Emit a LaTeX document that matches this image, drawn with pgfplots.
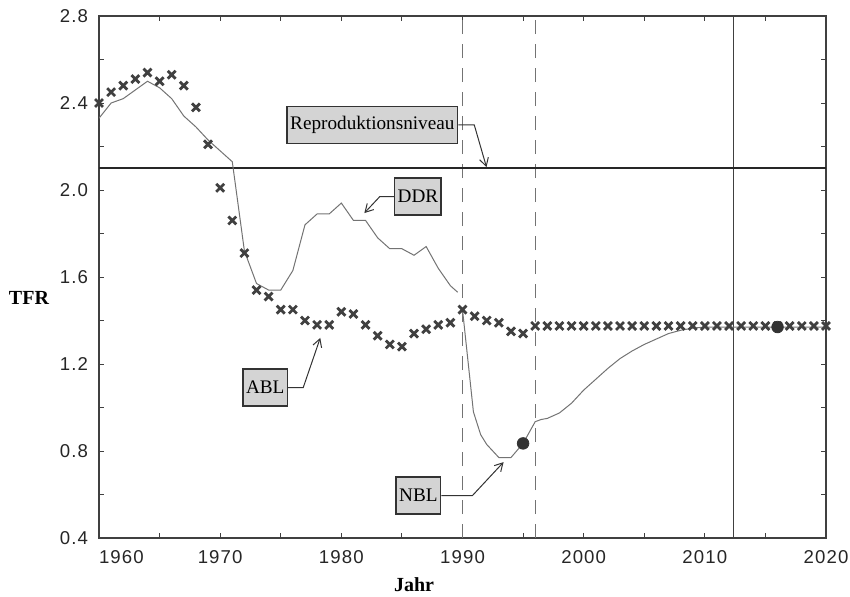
\documentclass[border=0pt]{standalone}
\usepackage{fontspec}
\setmainfont{Liberation Serif}
\newfontfamily\tickfont[LetterSpace=6]{Liberation Sans}
\usepackage{pgfplots}
\pgfplotsset{compat=1.18}
\usetikzlibrary{arrows.meta}

\pgfplotstableread{
year tfr
1960 2.40
1961 2.45
1962 2.48
1963 2.51
1964 2.54
1965 2.50
1966 2.53
1967 2.48
1968 2.38
1969 2.21
1970 2.01
1971 1.86
1972 1.71
1973 1.54
1974 1.51
1975 1.45
1976 1.45
1977 1.40
1978 1.38
1979 1.38
1980 1.44
1981 1.43
1982 1.38
1983 1.33
1984 1.29
1985 1.28
1986 1.34
1987 1.36
1988 1.38
1989 1.39
1990 1.45
1991 1.42
1992 1.40
1993 1.39
1994 1.35
1995 1.34
1996 1.375
1997 1.375
1998 1.375
1999 1.375
2000 1.375
2001 1.375
2002 1.375
2003 1.375
2004 1.375
2005 1.375
2006 1.375
2007 1.375
2008 1.375
2009 1.375
2010 1.375
2011 1.375
2012 1.375
2013 1.375
2014 1.375
2015 1.375
2016 1.375
2017 1.375
2018 1.375
2019 1.375
2020 1.375
}\abl

\pgfplotstableread{
year tfr
1960 2.33
1961 2.40
1962 2.42
1963 2.46
1964 2.50
1965 2.47
1966 2.42
1967 2.34
1968 2.29
1969 2.23
1970 2.18
1971 2.13
1972 1.72
1973 1.57
1974 1.54
1975 1.54
1976 1.63
1977 1.84
1978 1.89
1979 1.89
1980 1.94
1981 1.86
1982 1.86
1983 1.78
1984 1.73
1985 1.73
1986 1.70
1987 1.74
1988 1.64
1989 1.56
1989.6 1.53
}\ddr

\pgfplotstableread{
year tfr
1990 1.45
1990.9 0.98
1991.5 0.875
1992 0.83
1993 0.77
1994 0.77
1995 0.835
1996 0.935
1996.5 0.945
1997 0.95
1998 0.975
1999 1.02
2000 1.08
2001 1.13
2002 1.18
2003 1.225
2004 1.26
2005 1.29
2006 1.315
2007 1.34
2008 1.355
2009 1.365
2010 1.37
2020 1.37
}\nbl

\begin{document}
\begin{tikzpicture}
\begin{axis}[
  width=363.5pt, height=261pt, scale only axis,
  xmin=1960, xmax=2020, ymin=0.4, ymax=2.8,
  xtick={1960,1970,1980,1990,2000,2010,2020},
  xticklabels={\makebox[0pt][l]{1960},1970,1980,1990,2000,2010,2020},
  minor xtick={1965,1975,1985,1995,2005,2015},
  ytick={0.4,0.8,1.2,1.6,2.0,2.4,2.8},
  yticklabels={0.4,0.8,1.2,1.6,2.0,2.4,2.8},
  minor ytick={0.6,1.0,1.4,1.8,2.2,2.6},
  tick align=inside,
  major tick length=2.5pt, minor tick length=2.5pt,
  axis line style={black!75, line width=0.6pt},
  tick style={black!75, line width=0.5pt},
  tick label style={font=\tickfont\fontsize{9.3}{10}\selectfont, black!85},
  yticklabel style={xshift=-2pt},
  xticklabel style={yshift=-2.5pt},
]
% reference lines
\addplot[black!55, line width=0.5pt, dash pattern=on 7pt off 5pt] coordinates {(1990,0.4) (1990,2.8)};
\addplot[black!55, line width=0.5pt, dash pattern=on 7pt off 5pt] coordinates {(1996,0.4) (1996,2.8)};
\addplot[black!75, line width=0.45pt] coordinates {(2012.4,0.4) (2012.4,2.8)};
\addplot[black!85, line width=1.1pt] coordinates {(1960,2.1) (2020,2.1)};
% lines
\addplot[black!55, line width=0.5pt] table[x=year,y=tfr] {\ddr};
\addplot[black!55, line width=0.5pt] table[x=year,y=tfr] {\nbl};
% ABL markers
\addplot[only marks, mark=x, mark size=2.8pt, black!75, line width=1.4pt] table[x=year,y=tfr] {\abl};
% dots
\addplot[only marks, mark=*, mark size=2.9pt, black!80] coordinates {(1995,0.835) (2016,1.37)};

\coordinate (Rc) at (axis cs:1982.56,2.299);
\coordinate (Rt) at (axis cs:1991.98,2.105);
\coordinate (Dc) at (axis cs:1986.32,1.970);
\coordinate (Dt) at (axis cs:1981.9,1.894);
\coordinate (Ac) at (axis cs:1973.72,1.092);
\coordinate (At) at (axis cs:1978.26,1.32);
\coordinate (Nc) at (axis cs:1986.36,0.595);
\coordinate (Nt) at (axis cs:1993.39,0.749);
\coordinate (Jc) at (axis cs:1986,0.4);
\coordinate (Tc) at (axis cs:1960,1.503);
\coordinate (ll) at (rel axis cs:0,0);
\coordinate (ur) at (rel axis cs:1,1);
\end{axis}
% annotations
\tikzset{lbl/.style={draw=black!80, line width=0.8pt, fill=black!17, minimum height=18.5pt, inner xsep=1.5pt, inner ysep=0pt, font=\fontsize{9.6}{11}\selectfont},
         con/.style={black!80, line width=0.5pt, -{Straight Barb[length=4pt,width=4.5pt]}}}
\node[lbl] (R) at (Rc) {Reproduktionsniveau};
\draw[con] (R.east) -- ++(8pt,0) -- (Rt);
\node[lbl] (D) at (Dc) {DDR};
\draw[con] (D.west) -- ++(-7pt,0) -- (Dt);
\node[lbl] (A) at (Ac) {ABL};
\draw[con] (A.east) -- ++(7.5pt,0) -- (At);
\node[lbl] (N) at (Nc) {NBL};
\draw[con] (N.east) -- ++(15.5pt,0) -- (Nt);

\node[font=\fontsize{10}{12}\selectfont\bfseries, yshift=-23.5pt] at (Jc) {Jahr};
\node[font=\fontsize{10}{12}\selectfont\bfseries, xshift=-35pt] at (Tc) {TFR};

\pgfresetboundingbox
\path[use as bounding box] ([xshift=-49.5pt,yshift=-29pt]ll) rectangle ([xshift=12pt,yshift=8pt]ur);
\end{tikzpicture}
\end{document}
